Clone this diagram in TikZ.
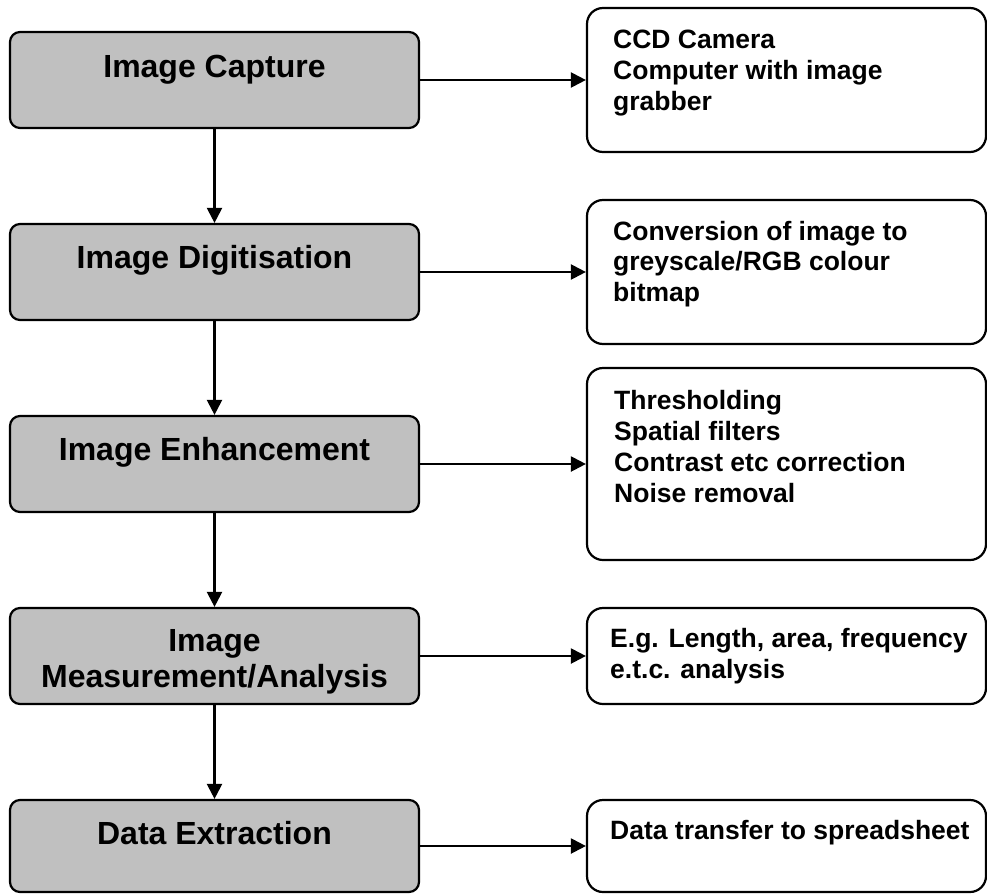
\documentclass[tikz,border=0pt]{standalone}
\usepackage{fontspec}
\setmainfont{Liberation Sans}
\usetikzlibrary{arrows.meta}
\definecolor{boxgray}{HTML}{C0C0C0}
\tikzset{
  leftbox/.style={draw=black, fill=boxgray, line width=2.2pt, rounded corners=10pt, minimum width=409pt, inner sep=0pt},
  rightbox/.style={draw=black, fill=white, line width=2.2pt, rounded corners=16pt, minimum width=399pt, inner sep=0pt},
  lefttext/.style={font=\fontsize{32}{36}\selectfont\bfseries, anchor=base, inner sep=0pt, align=center},
  righttext/.style={font=\fontsize{26.5}{30.8}\selectfont\bfseries, anchor=base west, inner sep=0pt, align=left},
  conn/.style={line width=2.2pt, -{Triangle[length=15pt,width=15pt]}}
}
\begin{document}
\begin{tikzpicture}[x=1pt,y=-1pt]
\useasboundingbox (0,0) rectangle (987,894);
% left boxes
\node[leftbox, minimum height=96pt] (c1) at (214.5,80) {};
\node[leftbox, minimum height=96pt] (c2) at (214.5,272) {};
\node[leftbox, minimum height=96pt] (c3) at (214.5,464) {};
\node[leftbox, minimum height=96pt] (c4) at (214.5,656) {};
\node[leftbox, minimum height=92pt] (c5) at (214.5,846) {};
\node[lefttext] (t1) at (214.5,77) {Image Capture};
\node[lefttext] (t2) at (214.5,268) {Image Digitisation};
\node[lefttext] (t3) at (214.5,460) {Image Enhancement};
\node[lefttext] (t4a) at (214.5,651) {Image};
\node[lefttext] (t4b) at (214.5,687) {Measurement/Analysis};
\node[lefttext] (t5) at (214.5,844) {Data Extraction};
% right boxes
\node[rightbox, minimum height=144pt] (d1) at (786.5,80) {};
\node[rightbox, minimum height=144pt] (d2) at (786.5,272) {};
\node[rightbox, minimum height=192pt] (d3) at (786.5,464) {};
\node[rightbox, minimum height=96pt] (d4) at (786.5,656) {};
\node[rightbox, minimum height=92pt] (d5) at (786.5,846) {};
% base anchor of a multi-line node is the baseline of its last line
\node[righttext] (r1) at (613,110) {CCD Camera\\Computer with image\\grabber};
\node[righttext] (r2) at (613,301.6) {Conversion of image to\\greyscale/RGB colour\\bitmap};
\node[righttext] (r3) at (614,502) {Thresholding\\Spatial filters\\Contrast etc correction\\Noise removal};
\node[righttext] (r4) at (610,678) {E.g. Length, area, frequency\\e.t.c. analysis};
\node[righttext] (r5) at (610,839) {Data transfer to spreadsheet};
% vertical connectors
\draw[conn] (c1) -- (c2);
\draw[conn] (c2) -- (c3);
\draw[conn] (c3) -- (c4);
\draw[conn] (c4) -- (c5);
% horizontal connectors
\draw[conn] (c1.east) -- (d1.west);
\draw[conn] (c2.east) -- (d2.west);
\draw[conn] (c3.east) -- (d3.west);
\draw[conn] (c4.east) -- (d4.west);
\draw[conn] (c5.east) -- (d5.west);
\end{tikzpicture}
\end{document}
